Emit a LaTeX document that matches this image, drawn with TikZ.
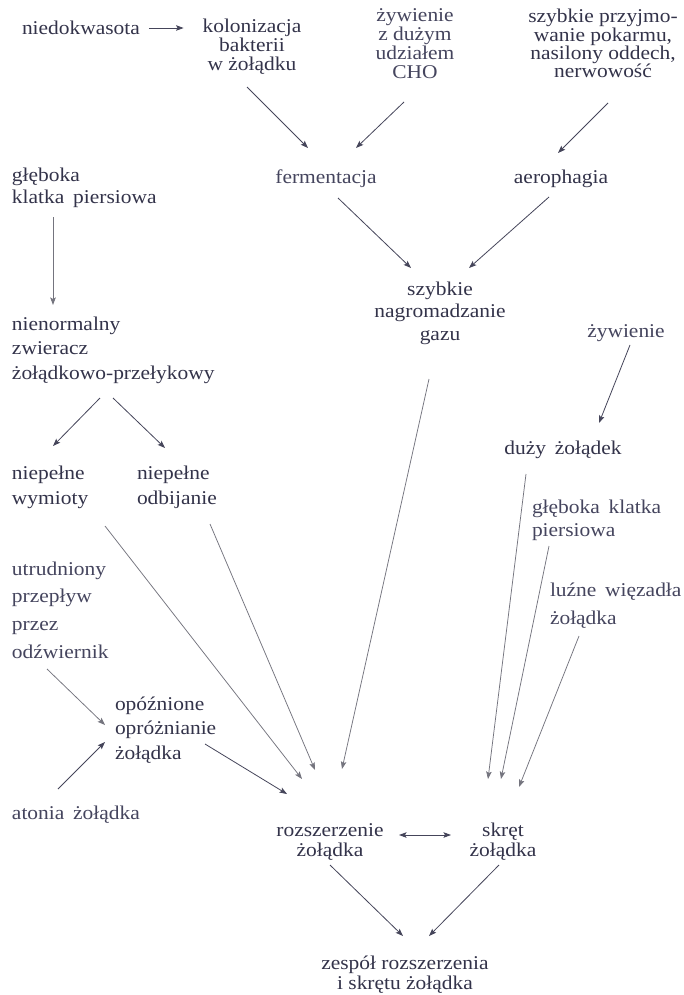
\documentclass[tikz,border=0pt]{standalone}
\usepackage{fontspec}
\setmainfont{Liberation Serif}[FakeStretch=1.1]
\usetikzlibrary{arrows.meta,calc}
\newcommand\cblk[2]{\vtop{\baselineskip=#1\lineskiplimit=-\maxdimen\lineskip=0pt\halign{\hfil##\hfil\cr#2\crcr}}}
\newcommand\lblk[2]{\vtop{\baselineskip=#1\lineskiplimit=-\maxdimen\lineskip=0pt\halign{##\hfil\cr#2\crcr}}}
\newcommand\ws{\hskip0.45em\relax}
\definecolor{txt}{HTML}{33334A}
\definecolor{txtb}{HTML}{45455E}
\definecolor{arrc}{HTML}{45455A}
\definecolor{arrl}{HTML}{74747E}
\begin{document}
\begin{tikzpicture}[x=1pt,y=-1pt,
  lbl/.style={inner sep=0pt, outer sep=0pt, font=\fontsize{19.5}{19.5}\selectfont, text=txt},
  lblb/.style={lbl, text=txtb},
  arr/.style={draw=arrc, line width=0.8pt, -{Stealth[length=7.5pt,width=5.5pt,inset=1.5pt]}},
  arrlong/.style={arr, draw=arrl, line width=0.75pt},
  darr/.style={draw=arrc, line width=0.8pt, {Stealth[length=7.5pt,width=5.5pt,inset=1.5pt]}-{Stealth[length=7.5pt,width=5.5pt,inset=1.5pt]}}
]
\path[use as bounding box, fill=white] (0,0) rectangle (683,995);

% nodes
\node[lbl,anchor=base west] (nied) at (22,35) {niedokwasota};
\node[lbl,anchor=base] (kolon) at (252,33) {\cblk{19pt}{kolonizacja\cr bakterii\cr w żołądku}};
\node[lblb,anchor=base] (zyw1) at (415,22) {\cblk{18.7pt}{żywienie\cr z dużym\cr udziałem\cr CHO}};
\node[lbl,anchor=base] (szyb) at (603,23) {\cblk{18.3pt}{szybkie przyjmo-\cr wanie pokarmu,\cr nasilony oddech,\cr nerwowość}};
\node[lblb,anchor=base] (ferm) at (326,183) {fermentacja};
\node[lbl,anchor=base] (aero) at (561,183) {aerophagia};
\node[lbl,anchor=base west] (gleb1) at (12,182) {\lblk{21.5pt}{głęboka\cr klatka\ws piersiowa}};
\node[lbl,anchor=base west] (nienorm) at (12,330) {\lblk{24.5pt}{nienormalny\cr zwieracz\cr żołądkowo-przełykowy}};
\node[lbl,anchor=base west] (niepw) at (12,479) {\lblk{25pt}{niepełne\cr wymioty}};
\node[lbl,anchor=base west] (niepo) at (137,479) {\lblk{25pt}{niepełne\cr odbijanie}};
\node[lbl,anchor=base] (gaz) at (440,295) {\cblk{22.5pt}{szybkie\cr nagromadzanie\cr gazu}};
\node[lblb,anchor=base] (zyw2) at (626,337) {żywienie};
\node[lbl,anchor=base] (duzy) at (563,454) {duży\ws żołądek};
\node[lblb,anchor=base west] (gleb2) at (532,513) {\lblk{23pt}{głęboka\ws klatka\cr piersiowa}};
\node[lblb,anchor=base west] (luzne) at (550,596) {\lblk{28pt}{luźne\ws więzadła\cr żołądka}};
\node[lblb,anchor=base west] (utrud) at (12,575) {\lblk{27.7pt}{utrudniony\cr przepływ\cr przez\cr odźwiernik}};
\node[lbl,anchor=base west] (opozn) at (115,710) {\lblk{24.5pt}{opóźnione\cr opróżnianie\cr żołądka}};
\node[lblb,anchor=base west] (atonia) at (12,819) {atonia\ws żołądka};
\node[lbl,anchor=base] (rozsz) at (330,836) {\cblk{20.5pt}{rozszerzenie\cr żołądka}};
\node[lbl,anchor=base] (skret) at (503,836) {\cblk{20.5pt}{skręt\cr żołądka}};
\node[lbl,anchor=base] (zespol) at (405,969) {\cblk{20pt}{zespół rozszerzenia\cr i skrętu żołądka}};

% connectors
\draw[arr] ($(nied.base east)+(9,-7)$) -- ($(kolon.base west)+(-19,-5)$);
\draw[arr] ($(kolon.base)+(-5,54)$) -- ($(ferm.base)+(-18,-35)$);
\draw[arr] ($(zyw1.base)+(-11,80)$) -- ($(ferm.base)+(30,-35)$);
\draw[arr] ($(szyb.base)+(5,80)$) -- ($(aero.base)+(-3,-30)$);
\draw[arrlong] ($(gleb1.base west)+(41,35)$) -- ($(nienorm.base west)+(41,-25)$);
\draw[arr] ($(nienorm.base west)+(88,68)$) -- ($(niepw.base west)+(41,-33)$);
\draw[arr] ($(nienorm.base west)+(101,68)$) -- ($(niepo.base west)+(28,-31)$);
\draw[arr] ($(ferm.base)+(12,15)$) -- ($(gaz.base)+(-29,-27)$);
\draw[arr] ($(aero.base)+(-12,14)$) -- ($(gaz.base)+(29,-27)$);
\draw[arr] ($(zyw2.base)+(4,8)$) -- ($(duzy.base)+(36,-31)$);
\draw[arrlong] ($(niepw.base west)+(93,47)$) -- ($(rozsz.base)+(-28,-57)$);
\draw[arrlong] ($(niepo.base west)+(73,45)$) -- ($(rozsz.base)+(-15,-66)$);
\draw[arrlong] ($(gaz.base)+(-11,84)$) -- ($(rozsz.base)+(12,-67)$);
\draw[arrlong] ($(duzy.base)+(-37,20)$) -- ($(skret.base)+(-15,-57)$);
\draw[arrlong] ($(gleb2.base west)+(17,33)$) -- ($(skret.base)+(-2,-57)$);
\draw[arrlong] ($(luzne.base west)+(29,40)$) -- ($(skret.base)+(16,-49)$);
\draw[arrlong] ($(utrud.base west)+(35,94)$) -- ($(opozn.base west)+(-10,15)$);
\draw[arr] ($(atonia.base west)+(46,-30)$) -- ($(opozn.base west)+(-10,32)$);
\draw[arr] ($(opozn.base west)+(90,34)$) -- ($(rozsz.base)+(-43,-42)$);
\draw[darr] ($(rozsz.base)+(69,-1)$) -- ($(skret.base)+(-52,-1)$);
\draw[arr] ($(rozsz.base)+(0,29)$) -- ($(zespol.base)+(-2,-33)$);
\draw[arr] ($(skret.base)+(-4,29)$) -- ($(zespol.base)+(24,-33)$);
\end{tikzpicture}
\end{document}
